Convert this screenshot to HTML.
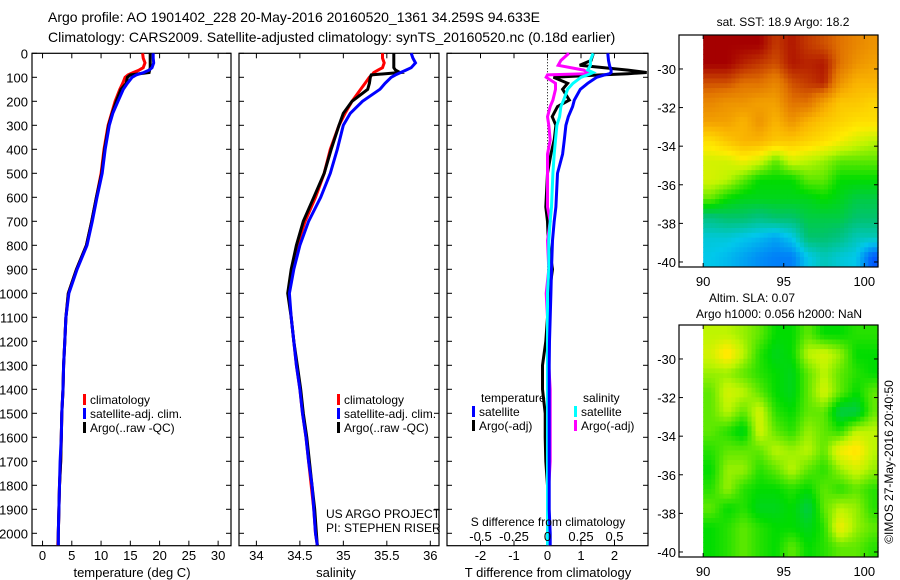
<!DOCTYPE html>
<html><head><meta charset="utf-8">
<style>
html,body{margin:0;padding:0;background:#fff;}
svg{display:block;font-family:"Liberation Sans",Arial,sans-serif;}
</style></head>
<body>
<svg id="fig" width="900" height="580" viewBox="0 0 900 580" xmlns="http://www.w3.org/2000/svg">
<text x="48" y="22" font-size="14">Argo profile: AO 1901402_228 20-May-2016 20160520_1361 34.259S 94.633E</text>
<text x="48" y="42" font-size="14">Climatology: CARS2009. Satellite-adjusted climatology: synTS_20160520.nc (0.18d earlier)</text>
<g id="g"></g>
</svg>
<script>
// ---- data ----
const depths = [0,20,40,60,70,80,90,100,125,150,200,250,300,400,500,600,700,800,900,1000,1100,1200,1300,1400,1500,1600,1700,1800,1900,2000,2050];
const tempClim = [17.1,17.2,17.5,17.2,16.5,15.5,14.6,14.1,13.7,13.2,12.4,11.8,11.2,10.5,10.0,9.2,8.4,7.5,5.8,4.4,4.0,3.8,3.6,3.5,3.3,3.2,3.1,2.9,2.8,2.7,2.6];
const tempSat = [18.9,18.9,19.0,18.7,18.2,17.3,16.0,15.3,14.5,13.8,12.9,12.0,11.4,10.7,10.2,9.3,8.5,7.6,5.9,4.5,4.0,3.8,3.6,3.5,3.3,3.2,3.0,2.9,2.8,2.7,2.7];
const tempArgo = [18.4,18.4,18.4,18.4,18.3,18.2,15.0,14.5,14.3,13.4,12.6,11.9,11.3,10.6,10.1,9.2,8.4,7.5,5.8,4.4,4.0,3.8,3.6,3.5,3.3,3.2,3.1,2.9,2.8,2.7,2.7];
const salClim = [35.45,35.45,35.47,35.45,35.40,35.35,35.33,35.30,35.25,35.20,35.10,35.02,34.95,34.85,34.78,34.68,34.56,34.47,34.41,34.37,34.40,34.43,34.46,34.50,34.53,34.57,34.60,34.63,34.66,34.68,34.70];
const salSat = [35.78,35.80,35.83,35.78,35.72,35.66,35.60,35.55,35.48,35.42,35.22,35.08,35.0,34.93,34.85,34.74,34.60,34.50,34.43,34.38,34.40,34.43,34.46,34.50,34.53,34.57,34.60,34.64,34.66,34.68,34.70];
const salArgo = [35.58,35.58,35.58,35.58,35.60,35.65,35.32,35.31,35.30,35.28,35.10,35.0,34.95,34.86,34.78,34.66,34.54,34.46,34.40,34.36,34.40,34.43,34.47,34.51,34.54,34.58,34.61,34.64,34.67,34.69,34.70];
const diffDepths = [0,30,50,70,80,85,90,100,125,150,195,222,264,300,361,420,500,640,700,780,900,1000,1100,1200,1300,1400,1500,1600,1700,1800,1900,2000,2050];
const dTSat = [1.8,1.82,1.85,1.9,1.9,1.85,1.7,1.47,1.2,0.98,0.8,0.75,0.62,0.55,0.5,0.45,0.3,0.25,0.2,0.15,0.12,0.1,0.08,0.06,0.05,0.05,0.05,0.05,0.05,0.05,0.05,0.08,0.08];
const dTArgo = [1.37,1.3,0.96,2.4,2.96,2.4,1.6,0.18,0.6,0.45,0.65,0.3,0.14,0.25,0.2,0.1,0.0,-0.05,0.0,0.02,0.15,0.05,0.0,-0.05,-0.15,-0.15,-0.07,-0.07,-0.05,0.0,0.0,0.0,0.0];
const dSSat = [0.34,0.32,0.32,0.3,0.34,0.32,0.3,0.25,0.19,0.15,0.12,0.1,0.09,0.07,0.06,0.05,0.04,0.03,0.02,0.01,0.01,0.0,0.0,0.0,0.0,0.0,0.0,0.0,0.0,0.0,0.0,0.0,0.0];
const dSArgo = [0.16,0.1,0.08,0.27,0.3,0.29,0.0,-0.01,0.06,0.06,0.04,0.02,0.0,0.01,0.02,0.0,0.0,0.0,0.02,0.0,0.01,-0.01,0.0,0.0,0.01,0.02,0.02,0.02,0.02,0.01,0.01,0.01,0.01];
const depthTicks = [0,100,200,300,400,500,600,700,800,900,1000,1100,1200,1300,1400,1500,1600,1700,1800,1900,2000];
const tempTicks = [0,5,10,15,20,25,30];
const salTicks = [34,34.5,35,35.5,36];
const dTTicks = [-2,-1,0,1,2];
const dSTicks = [-0.5,-0.25,0,0.25,0.5];
const dSTickLabels = ["-0.5","-0.25","0","0.25","0.5"];
const mapLonTicks = [90,95,100];
const mapLatTicks = [-30,-32,-34,-36,-38,-40];
const sstGrid = [
[0.95,0.95,0.95,0.95,0.9,0.93,0.9,0.88,0.85,0.82,0.8],
[0.95,0.95,0.92,0.9,0.88,0.93,0.92,0.93,0.85,0.8,0.78],
[0.88,0.88,0.85,0.85,0.82,0.88,0.9,0.92,0.8,0.75,0.75],
[0.82,0.8,0.8,0.78,0.78,0.85,0.85,0.78,0.72,0.72,0.7],
[0.78,0.78,0.75,0.8,0.75,0.8,0.75,0.72,0.7,0.68,0.68],
[0.68,0.72,0.75,0.75,0.72,0.72,0.7,0.68,0.65,0.62,0.6],
[0.62,0.62,0.65,0.62,0.55,0.62,0.6,0.58,0.55,0.55,0.55],
[0.62,0.6,0.55,0.5,0.5,0.5,0.55,0.55,0.5,0.5,0.5],
[0.55,0.5,0.48,0.48,0.48,0.48,0.48,0.5,0.48,0.45,0.45],
[0.4,0.42,0.42,0.4,0.42,0.42,0.45,0.45,0.45,0.42,0.42],
[0.32,0.32,0.3,0.28,0.25,0.3,0.42,0.42,0.4,0.35,0.35],
[0.3,0.28,0.25,0.22,0.2,0.2,0.3,0.35,0.32,0.3,0.15]];
const slaGrid = [
[0.6,0.6,0.58,0.55,0.5,0.5,0.55,0.5,0.5,0.52,0.52],
[0.62,0.68,0.6,0.52,0.48,0.5,0.6,0.62,0.58,0.5,0.5],
[0.58,0.58,0.55,0.52,0.5,0.48,0.55,0.6,0.55,0.52,0.5],
[0.55,0.62,0.6,0.55,0.5,0.48,0.55,0.62,0.55,0.5,0.55],
[0.55,0.6,0.55,0.62,0.52,0.5,0.55,0.55,0.45,0.45,0.55],
[0.55,0.52,0.48,0.62,0.55,0.52,0.58,0.55,0.52,0.6,0.6],
[0.52,0.55,0.55,0.55,0.6,0.58,0.6,0.55,0.65,0.68,0.6],
[0.5,0.58,0.58,0.52,0.55,0.6,0.55,0.52,0.58,0.62,0.58],
[0.52,0.58,0.52,0.5,0.5,0.52,0.5,0.55,0.52,0.55,0.52],
[0.55,0.5,0.52,0.48,0.48,0.5,0.45,0.55,0.6,0.58,0.52],
[0.5,0.52,0.55,0.52,0.5,0.5,0.48,0.52,0.65,0.58,0.55],
[0.5,0.52,0.55,0.52,0.5,0.55,0.5,0.52,0.55,0.55,0.52]];

const NS='http://www.w3.org/2000/svg';
const G=document.getElementById('g');
function mk(tag,attrs,parent){const e=document.createElementNS(NS,tag);for(const k in attrs)e.setAttribute(k,attrs[k]);(parent||G).appendChild(e);return e;}
function txt(s,x,y,size,anchor,parent){const t=mk('text',{x:x,y:y,'font-size':size,'text-anchor':anchor||'start'},parent);t.textContent=s;return t;}

const TOP=53.3, BOT=545.7;
const yD=d=>TOP+d*0.24;
function lin(d0,d1,r0,r1){return v=>r0+(v-d0)/(d1-d0)*(r1-r0);}
const xT=lin(-1.8,32.2,32,231);
const xS=lin(33.8,36.1,239,439);
const xDT=lin(-3,3,447,648);
const xDS=v=>xDT(v*4);

function box(x0,x1,y0,y1,name){
  const r=mk('rect',{x:x0,y:y0,width:x1-x0,height:y1-y0,fill:'none',stroke:'#000','stroke-width':1.2});
  
  
}
function line(xs,ds,sx,color,name){
  let p='';
  for(let i=0;i<xs.length;i++){p+=(i?'L':'M')+sx(xs[i]).toFixed(1)+','+yD(ds[i]).toFixed(1);}
  const e=mk('path',{d:p,fill:'none',stroke:color,'stroke-width':3,'stroke-linejoin':'miter'});
  
  
}
function depthTicksFor(x0,x1,labels){
  depthTicks.forEach(d=>{
    mk('line',{x1:x0,x2:x0+5,y1:yD(d),y2:yD(d),stroke:'#000'});
    mk('line',{x1:x1,x2:x1-5,y1:yD(d),y2:yD(d),stroke:'#000'});
    if(labels){const t=txt(String(d),28,yD(d)+5,13,'end');
      
      }
  });
}
function xTicks(ticks,sx,labs,ly){
  ticks.forEach((v,i)=>{
    const x=sx(v);
    mk('line',{x1:x,x2:x,y1:TOP,y2:TOP+5,stroke:'#000'});
    mk('line',{x1:x,x2:x,y1:BOT,y2:BOT-5,stroke:'#000'});
    if(labs){const t=txt(labs[i],x,ly,13,'middle');
      
      }
  });
}
function legendEntry(x,y,color,label){
  mk('rect',{x:x,y:y-10,width:3,height:11,fill:color});
  const t=txt(label,x+7,y,12);
  
  
}

// Panel 1 temperature
box(32,231,TOP,BOT,'temperature-panel');
depthTicksFor(32,231,true);
xTicks(tempTicks,xT,tempTicks.map(String),560);
line(tempClim,depths,xT,'#f00','temp-climatology-line');
line(tempArgo,depths,xT,'#000','temp-argo-line');
line(tempSat,depths,xT,'#00f','temp-satellite-line');
legendEntry(83,404,'#f00','climatology');
legendEntry(83,418,'#00f','satellite-adj. clim.');
legendEntry(83,432,'#000','Argo(..raw -QC)');
let t=txt('temperature (deg C)',132,577,13,'middle');

// Panel 2 salinity
box(239,439,TOP,BOT,'salinity-panel');
depthTicksFor(239,439,false);
xTicks(salTicks,xS,salTicks.map(String),560);
line(salClim,depths,xS,'#f00','sal-climatology-line');
line(salArgo,depths,xS,'#000','sal-argo-line');
line(salSat,depths,xS,'#00f','sal-satellite-line');
legendEntry(337,404,'#f00','climatology');
legendEntry(337,418,'#00f','satellite-adj. clim.');
legendEntry(337,432,'#000','Argo(..raw -QC)');
t=txt('salinity',336,577,13,'middle');
t=txt('US ARGO PROJECT',326,518,12);
t=txt('PI: STEPHEN RISER',326,532,12);

// Panel 3 differences
box(447,648,TOP,BOT,'difference-panel');
depthTicksFor(447,648,false);
xTicks(dTTicks,xDT,dTTicks.map(String),560);
mk('line',{x1:xDT(0),x2:xDT(0),y1:TOP,y2:BOT,stroke:'#000','stroke-dasharray':'1,2'});
line(dTArgo,diffDepths,xDT,'#000','dt-argo-line');
line(dSArgo,diffDepths,xDS,'#f0f','ds-argo-line');
line(dSSat,diffDepths,xDS,'#0ff','ds-satellite-line');
line(dTSat,diffDepths,xDT,'#00f','dt-satellite-line');
dSTicks.forEach((v,i)=>{const tt=txt(dSTickLabels[i],xDS(v),541,13,'middle');
  
  });
t=txt('S difference from climatology',548,526,12,'middle');
t=txt('T difference from climatology',548,577,13,'middle');
t=txt('temperature',481,402,12);
t=txt('salinity',583,402,12);
legendEntry(472,416,'#00f','satellite');
legendEntry(472,430,'#000','Argo(-adj)');
legendEntry(574,416,'#0ff','satellite');
legendEntry(574,430,'#f0f','Argo(-adj)');

// colormap
const stops=[[0,[0,0,150]],[0.15,[0,90,255]],[0.3,[0,200,235]],[0.42,[0,195,110]],[0.5,[0,220,0]],[0.6,[190,245,0]],[0.66,[255,235,0]],[0.75,[250,180,0]],[0.85,[225,115,0]],[0.95,[165,0,0]],[1,[140,0,0]]];
function cmap(v){v=Math.max(0,Math.min(1,v));for(let i=1;i<stops.length;i++){if(v<=stops[i][0]){const a=stops[i-1],b=stops[i];const f=(v-a[0])/(b[0]-a[0]);const c=a[1].map((x,k)=>Math.round(x+(b[1][k]-x)*f));return 'rgb('+c.join(',')+')';}}return 'rgb(140,0,0)';}
function sample(grid,r,c){const R=grid.length,C=grid[0].length;r=Math.max(0,Math.min(R-1,r));c=Math.max(0,Math.min(C-1,c));const r0=Math.floor(r),c0=Math.floor(c),r1=Math.min(R-1,r0+1),c1=Math.min(C-1,c0+1),fr=r-r0,fc=c-c0;
  return grid[r0][c0]*(1-fr)*(1-fc)+grid[r0][c1]*(1-fr)*fc+grid[r1][c0]*fr*(1-fc)+grid[r1][c1]*fr*fc;}

function drawMap(grid,y0,y1,name,titles){
  const x0=679,x1=878;
  const xL=lin(88.5,100.85,x0,x1), yL=lin(-28.24,-40.26,y0,y1);
  const gm=mk('g',{});
  
  
  const sub=4, R=grid.length, C=grid[0].length;
  for(let r=0;r<R*sub;r++){for(let c=0;c<C*sub;c++){
    const lon0=90+c/sub, lat0=-28.24-r/sub;
    if(lon0>=100.85||lat0<=-40.26)continue;
    const xa=xL(lon0), xb=Math.min(x1,xL(lon0+1/sub)), ya=yL(lat0), yb=Math.min(y1,yL(lat0-1/sub));
    const v=sample(grid,(r+0.5)/sub-0.5,(c+0.5)/sub-0.5);
    const cell=mk('rect',{x:xa.toFixed(2),y:ya.toFixed(2),width:(xb-xa+0.6).toFixed(2),height:(yb-ya+0.6).toFixed(2),fill:cmap(v)},gm);
    
    
  }}
  mk('rect',{x:x0,y:y0,width:x1-x0,height:y1-y0,fill:'none',stroke:'#000','stroke-width':1.2});
  mapLonTicks.forEach(v=>{const x=xL(v);
    mk('line',{x1:x,x2:x,y1:y0,y2:y0+4,stroke:'#000'});
    mk('line',{x1:x,x2:x,y1:y1,y2:y1-4,stroke:'#000'});
    const tt=txt(String(v),x,y1+19,13,'middle');
    
    });
  mapLatTicks.forEach(v=>{const y=yL(v);
    mk('line',{x1:x0,x2:x0+4,y1:y,y2:y,stroke:'#000'});
    mk('line',{x1:x1,x2:x1-4,y1:y,y2:y,stroke:'#000'});
    const tt=txt(String(v),676,y+5,13,'end');
    
    });
  titles.forEach(tl=>{const tt=txt(tl[0],tl[1],tl[2],12,'middle');
    
    });
}
drawMap(sstGrid,35,267,'sst-map',[['sat. SST: 18.9 Argo: 18.2',783,26]]);
drawMap(slaGrid,325,557,'sla-map',[['Altim. SLA: 0.07',752,302],['Argo h1000: 0.056 h2000: NaN',779,318]]);

t=txt('©IMOS 27-May-2016 20:40:50',0,0,12,'middle');
t.setAttribute('transform','translate(893,462) rotate(-90)');


</script>
</body></html>
